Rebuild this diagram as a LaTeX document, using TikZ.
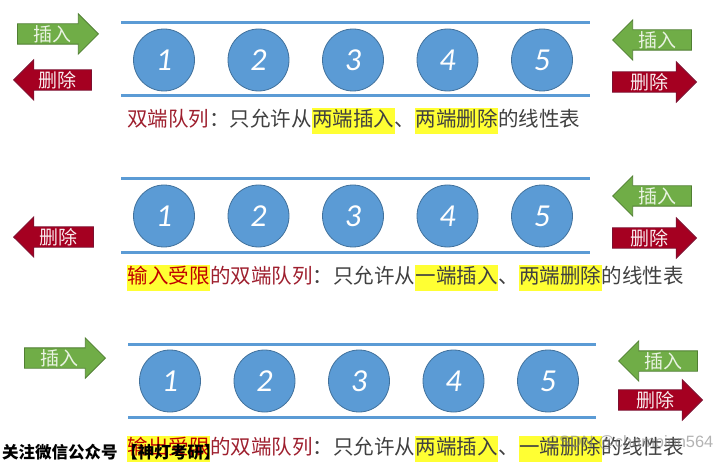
\documentclass[tikz,border=0pt]{standalone}
\usepackage{fontspec}
\setmainfont{Noto Sans CJK SC}
\newfontfamily\numfont{Carlito}
\newfontfamily\wmfont{Liberation Sans}
\usetikzlibrary{shapes.geometric,shapes.arrows,positioning}

\definecolor{qblue}{HTML}{5B9BD5}
\definecolor{qblueline}{HTML}{41719C}
\definecolor{insgreen}{HTML}{70AD47}
\definecolor{insborder}{HTML}{507E32}
\definecolor{delred}{HTML}{A50021}
\definecolor{delborder}{HTML}{7B1030}
\definecolor{capred}{HTML}{9E1F2E}
\definecolor{limred}{HTML}{C00000}
\definecolor{capgray}{HTML}{404040}
\definecolor{hlyellow}{HTML}{FFFF33}

\newcommand{\hl}[1]{{\setlength{\fboxsep}{0.5pt}\colorbox{hlyellow}{\strut #1}}}

\tikzset{
	elem/.style={ellipse, draw=qblueline, fill=qblue, line width=0.8pt, minimum width=61pt, minimum height=62pt, inner sep=0pt, text=white, font=\numfont\itshape\fontsize{32}{32}\selectfont},
	rail/.style={qblue, line width=3pt},
	opshape/.style={single arrow, single arrow head extend=10pt, inner xsep=4pt, inner ysep=1pt, line width=0.8pt, font=\fontsize{19}{19}\selectfont},
	ins/.style={opshape, draw=insborder, fill=insgreen, text=insgreen!15},
	del/.style={opshape, draw=delborder, fill=delred, text=delred!8},
	toright/.style={shape border rotate=0},
	toleft/.style={shape border rotate=180},
	captext/.style={anchor=west, inner sep=0pt, text=capgray, font=\fontsize{20.5}{24}\selectfont}
}

\begin{document}
\begin{tikzpicture}[x=1pt, y=-1pt]
	\useasboundingbox (0,0) rectangle (727,462);

	% deque: both ends
	\draw[rail] (121,23) -- (590,23);
	\draw[rail] (121,96) -- (590,96);
	\foreach \i in {1,...,5}
		\node[elem] (a\i) at ({164+94.5*(\i-1)},60) {\i};
	\node[ins, toright, anchor=tip, minimum height=81pt] (insa1) at (99,34) {插入};
	\node[del, toleft, anchor=tip, minimum height=78pt] (dela1) at (13,80) {删除};
	\node[ins, toleft, anchor=tip, minimum height=79pt] (insa2) at (612,40) {插入};
	\node[del, toright, anchor=tip, minimum height=84pt] (dela2) at (697,82) {删除};
	\node[captext] (cap1) at (127,121) {\textcolor{capred}{双端队列}：只允许从\hl{两端插入}、\hl{两端删除}的线性表};

	% input restricted
	\draw[rail] (121,179) -- (590,179);
	\draw[rail] (121,252) -- (590,252);
	\foreach \i in {1,...,5}
		\node[elem] (b\i) at ({164+94.5*(\i-1)},216) {\i};
	\node[del, toleft, anchor=tip, minimum height=80pt] (delb1) at (13,237) {删除};
	\node[ins, toleft, anchor=tip, minimum height=79pt] (insb2) at (612,196) {插入};
	\node[del, toright, anchor=tip, minimum height=84pt] (delb2) at (697,238) {删除};
	\node[captext] (cap2) at (127,278) {\hl{\textcolor{limred}{输入受限}}\textcolor{capred}{的双端队列}：只允许从\hl{一端插入}、\hl{两端删除}的线性表};

	% output restricted
	\draw[rail] (128,344) -- (596,344);
	\draw[rail] (128,417) -- (596,417);
	\foreach \i in {1,...,5}
		\node[elem] (c\i) at ({170+94.5*(\i-1)},381) {\i};
	\node[ins, toright, anchor=tip, minimum height=81pt] (insc1) at (106,358) {插入};
	\node[ins, toleft, anchor=tip, minimum height=79pt] (insc2) at (618,361) {插入};
	\node[del, toright, anchor=tip, minimum height=84pt] (delc2) at (703,400) {删除};
	\node[captext] (cap3) at (127,449) {\hl{\textcolor{limred}{输出受限}}\textcolor{capred}{的双端队列}：只允许从\hl{两端插入}、\hl{一端删除}的线性表};

	% watermarks
	\node[anchor=west, inner sep=0pt, font=\bfseries\fontsize{16.5}{18}\selectfont] (wxmark) at (2,452) {关注微信公众号 【神灯考研】};
	\node[anchor=west, inner sep=0pt, text=gray, opacity=0.6, font=\wmfont\fontsize{16.4}{18}\selectfont] (csdnmark) at (547,443) {CSDN @champion564};
\end{tikzpicture}
\end{document}
